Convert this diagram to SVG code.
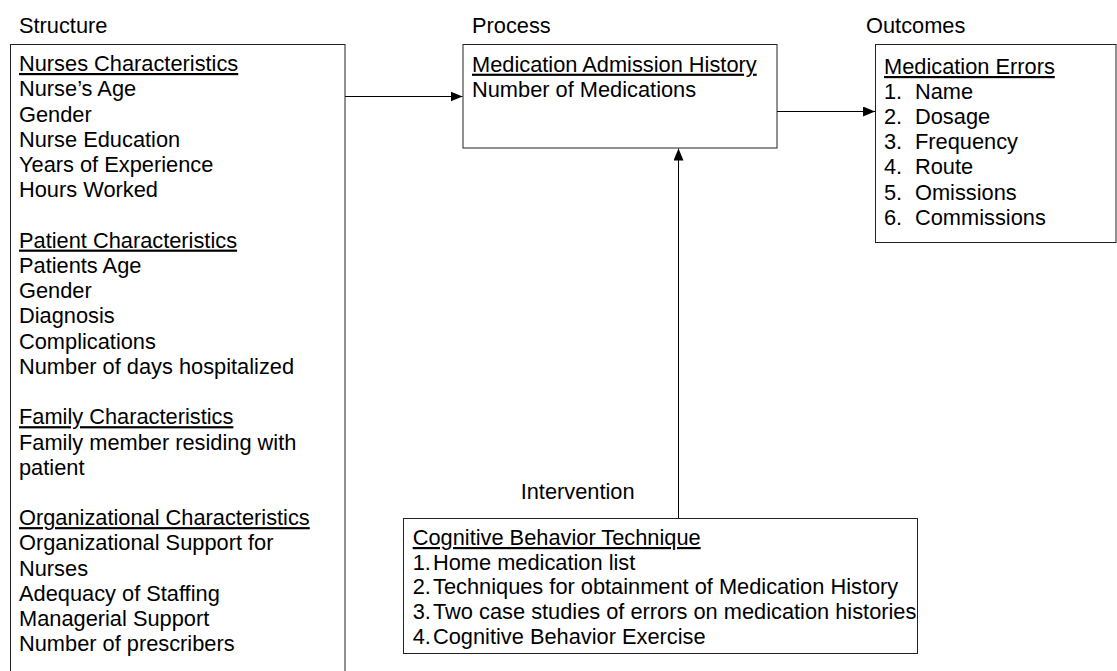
<svg xmlns="http://www.w3.org/2000/svg" width="1117" height="671" viewBox="0 0 1117 671">
<defs>
<style>
text{font-family:"Liberation Sans",Arial,sans-serif;font-size:21.8px;fill:#000}
.u{text-decoration:underline}
.box{fill:#fff;stroke:#222;stroke-width:1}
.conn{stroke:#000;stroke-width:1;fill:none}
</style>
<marker id="ah" viewBox="0 0 12 10" refX="12" refY="5" markerWidth="12" markerHeight="10" markerUnits="userSpaceOnUse" orient="auto">
<path d="M0,0 L12,5 L0,10 Z" fill="#000"/>
</marker>
</defs>
<rect width="1117" height="671" fill="#fff"/>
<g id="labels">
<text x="19" y="33.3">Structure</text>
<text x="472" y="33.3">Process</text>
<text x="866" y="33.3">Outcomes</text>
<text x="520.7" y="499">Intervention</text>
</g>
<g id="connectors">
<line class="conn" x1="345" y1="96.5" x2="462.5" y2="96.5" marker-end="url(#ah)"/>
<line class="conn" x1="777" y1="111.5" x2="875" y2="111.5" marker-end="url(#ah)"/>
<line class="conn" x1="678.5" y1="518" x2="678.5" y2="148.5" marker-end="url(#ah)"/>
</g>
<g id="structure">
<rect class="box" x="10.5" y="44.5" width="334.5" height="640"/>
<text x="19" y="71" class="u">Nurses Characteristics</text>
<text x="19" y="96.2">Nurse’s Age</text>
<text x="19" y="121.5">Gender</text>
<text x="19" y="146.7">Nurse Education</text>
<text x="19" y="171.9">Years of Experience</text>
<text x="19" y="197.2">Hours Worked</text>
<text x="19" y="247.6" class="u">Patient Characteristics</text>
<text x="19" y="272.8">Patients Age</text>
<text x="19" y="298.1">Gender</text>
<text x="19" y="323.3">Diagnosis</text>
<text x="19" y="348.5">Complications</text>
<text x="19" y="373.8">Number of days hospitalized</text>
<text x="19" y="424.2" class="u">Family Characteristics</text>
<text x="19" y="449.5">Family member residing with</text>
<text x="19" y="474.7">patient</text>
<text x="19" y="525.1" class="u">Organizational Characteristics</text>
<text x="19" y="550.4">Organizational Support for</text>
<text x="19" y="575.6">Nurses</text>
<text x="19" y="600.8">Adequacy of Staffing</text>
<text x="19" y="626.1">Managerial Support</text>
<text x="19" y="651.3">Number of prescribers</text>
</g>
<g id="process">
<rect class="box" x="463" y="44.5" width="314" height="103.5"/>
<text x="472" y="71.7" class="u">Medication Admission History</text>
<text x="472" y="96.9">Number of Medications</text>
</g>
<g id="outcomes">
<rect class="box" x="875.5" y="44.5" width="240.5" height="198"/>
<text x="884" y="74" class="u">Medication Errors</text>
<text x="884" y="99.1">1.</text><text x="915" y="99.1">Name</text>
<text x="884" y="124.2">2.</text><text x="915" y="124.2">Dosage</text>
<text x="884" y="149.3">3.</text><text x="915" y="149.3">Frequency</text>
<text x="884" y="174.4">4.</text><text x="915" y="174.4">Route</text>
<text x="884" y="199.5">5.</text><text x="915" y="199.5">Omissions</text>
<text x="884" y="224.6">6.</text><text x="915" y="224.6">Commissions</text>
</g>
<g id="intervention">
<rect class="box" x="403.5" y="518.5" width="514" height="135"/>
<text x="412.7" y="545" class="u">Cognitive Behavior Technique</text>
<text x="412.7" y="569.5">1.</text><text x="433" y="569.5">Home medication list</text>
<text x="412.7" y="594.4">2.</text><text x="433" y="594.4">Techniques for obtainment of Medication History</text>
<text x="412.7" y="619.3">3.</text><text x="433" y="619.3">Two case studies of errors on medication histories</text>
<text x="412.7" y="644.2">4.</text><text x="433" y="644.2">Cognitive Behavior Exercise</text>
</g>
</svg>
